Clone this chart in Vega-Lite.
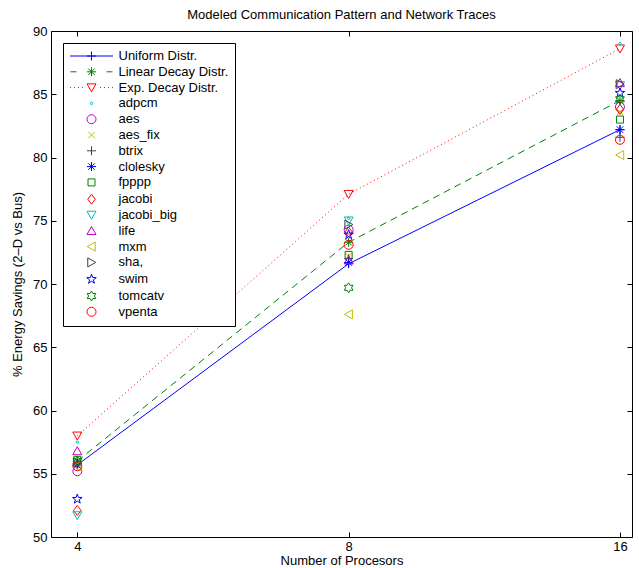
{
  "$schema": "https://vega.github.io/schema/vega-lite/v6.json",
  "width": 581,
  "height": 506,
  "autosize": {"type": "none"},
  "padding": {"left": 51, "top": 31, "right": 7, "bottom": 31},
  "background": "white",
  "title": {"text": "Modeled Communication Pattern and Network Traces", "fontSize": 13, "fontWeight": "normal", "font": "Liberation Sans", "color": "black", "offset": 3},
  "config": {
    "view": {"stroke": "black", "strokeWidth": 1},
    "axis": {"domain": false, "grid": false, "tickColor": "black", "tickSize": -5, "tickWidth": 1, "labelColor": "black", "titleColor": "black", "labelFont": "Liberation Sans", "titleFont": "Liberation Sans", "labelFontSize": 13, "titleFontSize": 13, "titleFontWeight": "normal"},
    "legend": {"strokeColor": "black", "fillColor": "white", "padding": 6.5, "symbolSize": 100, "symbolStrokeWidth": 1, "symbolOffset": 15.5, "labelOffset": 20.5, "rowPadding": 1.8, "labelFont": "Liberation Sans", "labelFontSize": 13, "labelColor": "black", "symbolLimit": 50, "symbolOpacity": 1}
  },
  "data": {"values": [
    {"series": "Uniform Distr.", "procs": 4, "value": 55.7},
    {"series": "Uniform Distr.", "procs": 8, "value": 71.6},
    {"series": "Uniform Distr.", "procs": 16, "value": 82.2},
    {"series": "Linear Decay Distr.", "procs": 4, "value": 56.0},
    {"series": "Linear Decay Distr.", "procs": 8, "value": 73.3},
    {"series": "Linear Decay Distr.", "procs": 16, "value": 84.5},
    {"series": "Exp. Decay Distr.", "procs": 4, "value": 58.0},
    {"series": "Exp. Decay Distr.", "procs": 8, "value": 77.1},
    {"series": "Exp. Decay Distr.", "procs": 16, "value": 88.6},
    {"series": "adpcm", "procs": 4, "value": 57.5},
    {"series": "adpcm", "procs": 8, "value": 75.2},
    {"series": "adpcm", "procs": 16, "value": 89.0},
    {"series": "aes", "procs": 4, "value": 55.2},
    {"series": "aes", "procs": 8, "value": 74.3},
    {"series": "aes", "procs": 16, "value": 84.0},
    {"series": "aes_fix", "procs": 4, "value": 55.9},
    {"series": "aes_fix", "procs": 8, "value": 72.2},
    {"series": "aes_fix", "procs": 16, "value": 83.6},
    {"series": "btrix", "procs": 4, "value": 55.8},
    {"series": "btrix", "procs": 8, "value": 72.0},
    {"series": "btrix", "procs": 16, "value": 81.6},
    {"series": "clolesky", "procs": 4, "value": 55.7},
    {"series": "clolesky", "procs": 8, "value": 71.7},
    {"series": "clolesky", "procs": 16, "value": 82.2},
    {"series": "fpppp", "procs": 4, "value": 56.1},
    {"series": "fpppp", "procs": 8, "value": 72.3},
    {"series": "fpppp", "procs": 16, "value": 83.0},
    {"series": "jacobi", "procs": 4, "value": 52.1},
    {"series": "jacobi", "procs": 8, "value": 74.1},
    {"series": "jacobi", "procs": 16, "value": 83.8},
    {"series": "jacobi_big", "procs": 4, "value": 51.7},
    {"series": "jacobi_big", "procs": 8, "value": 75.0},
    {"series": "jacobi_big", "procs": 16, "value": 85.7},
    {"series": "life", "procs": 4, "value": 56.8},
    {"series": "life", "procs": 8, "value": 71.9},
    {"series": "life", "procs": 16, "value": 85.9},
    {"series": "mxm", "procs": 4, "value": 55.6},
    {"series": "mxm", "procs": 8, "value": 67.6},
    {"series": "mxm", "procs": 16, "value": 80.2},
    {"series": "sha,", "procs": 4, "value": 55.9},
    {"series": "sha,", "procs": 8, "value": 74.7},
    {"series": "sha,", "procs": 16, "value": 85.8},
    {"series": "swim", "procs": 4, "value": 53.0},
    {"series": "swim", "procs": 8, "value": 73.9},
    {"series": "swim", "procs": 16, "value": 85.1},
    {"series": "tomcatv", "procs": 4, "value": 56.0},
    {"series": "tomcatv", "procs": 8, "value": 69.7},
    {"series": "tomcatv", "procs": 16, "value": 84.6},
    {"series": "vpenta", "procs": 4, "value": 55.6},
    {"series": "vpenta", "procs": 8, "value": 73.1},
    {"series": "vpenta", "procs": 16, "value": 81.4}
  ]},
  "layer": [
    {
      "transform": [{"filter": "datum.series === 'Uniform Distr.'"}],
      "mark": {"type": "line", "color": "#0000ff", "strokeWidth": 1, "point": {"shape": "M-0.9,0H0.9M0,-0.9V0.9", "filled": false, "size": 100, "strokeWidth": 1, "color": "#0000ff"}},
      "encoding": {
        "x": {"field": "procs", "type": "quantitative", "scale": {"type": "log", "base": 2, "domain": [3.74, 16.5], "nice": false}, "axis": {"orient": "bottom", "values": [4, 8, 16], "format": "d", "title": "Number of Procesors", "labelPadding": 8, "titlePadding": 1.5}},
        "y": {"field": "value", "type": "quantitative", "scale": {"domain": [50, 90], "nice": false, "zero": false}, "axis": {"orient": "left", "values": [50, 55, 60, 65, 70, 75, 80, 85, 90], "title": "% Energy Savings (2–D vs Bus)", "labelPadding": 9, "titlePadding": 8}}
      }
    },
    {
      "transform": [{"filter": "datum.series === 'Linear Decay Distr.'"}],
      "mark": {"type": "line", "color": "#008000", "strokeWidth": 1, "strokeDash": [7, 5], "point": {"shape": "M-0.9,0H0.9M0,-0.9V0.9M-0.65,-0.65L0.65,0.65M-0.65,0.65L0.65,-0.65", "filled": false, "size": 100, "strokeWidth": 1, "color": "#008000"}},
      "encoding": {
        "x": {"field": "procs", "type": "quantitative", "axis": null},
        "y": {"field": "value", "type": "quantitative", "axis": null}
      }
    },
    {
      "transform": [{"filter": "datum.series === 'Exp. Decay Distr.'"}],
      "mark": {"type": "line", "color": "#ff0000", "strokeWidth": 1, "strokeDash": [1, 3], "point": {"shape": "M-0.9,-0.75H0.9L0,0.85Z", "filled": false, "size": 100, "strokeWidth": 1, "color": "#ff0000"}},
      "encoding": {
        "x": {"field": "procs", "type": "quantitative", "axis": null},
        "y": {"field": "value", "type": "quantitative", "axis": null}
      }
    },
    {
      "transform": [{"filter": "indexof(['Uniform Distr.', 'Linear Decay Distr.', 'Exp. Decay Distr.'], datum.series) < 0"}],
      "mark": {"type": "point", "filled": false, "size": 100, "strokeWidth": 1, "opacity": 1},
      "encoding": {
        "x": {"field": "procs", "type": "quantitative", "axis": {"orient": "top", "values": [4, 8, 16], "labels": false, "title": null}},
        "y": {"field": "value", "type": "quantitative", "axis": {"orient": "right", "values": [50, 55, 60, 65, 70, 75, 80, 85, 90], "labels": false, "title": null}},
        "color": {"field": "series", "type": "nominal",
          "scale": {
            "domain": ["Uniform Distr.", "Linear Decay Distr.", "Exp. Decay Distr.", "adpcm", "aes", "aes_fix", "btrix", "clolesky", "fpppp", "jacobi", "jacobi_big", "life", "mxm", "sha,", "swim", "tomcatv", "vpenta"],
            "range": ["#0000ff", "#008000", "#ff0000", "#00bfbf", "#bf00bf", "#bfbf00", "#404040", "#0000ff", "#008000", "#ff0000", "#00bfbf", "#bf00bf", "#bfbf00", "#404040", "#0000ff", "#008000", "#ff0000"]
          },
          "legend": {"title": null, "orient": "none", "legendX": 12, "legendY": 12}
        },
        "shape": {"field": "series", "type": "nominal",
          "scale": {
            "domain": ["Uniform Distr.", "Linear Decay Distr.", "Exp. Decay Distr.", "adpcm", "aes", "aes_fix", "btrix", "clolesky", "fpppp", "jacobi", "jacobi_big", "life", "mxm", "sha,", "swim", "tomcatv", "vpenta"],
            "range": [
              "M-4.3,0H4.3M-0.9,0H0.9M0,-0.9V0.9",
              "M-4.2,0H-3.0M3.0,0H4.2M-0.9,0H0.9M0,-0.9V0.9M-0.65,-0.65L0.65,0.65M-0.65,0.65L0.65,-0.65",
              "M-4.3,0H-4.1M-3.5,0H-3.3M-2.7,0H-2.5M-1.9,0H-1.7M1.7,0H1.9M2.5,0H2.7M3.3,0H3.5M4.1,0H4.3M-0.9,-0.75H0.9L0,0.85Z",
              "M0.25,0A0.25,0.25,0,1,1,-0.25,0A0.25,0.25,0,1,1,0.25,0Z",
              "M0.9,0A0.9,0.9,0,1,1,-0.9,0A0.9,0.9,0,1,1,0.9,0Z",
              "M-0.65,-0.65L0.65,0.65M-0.65,0.65L0.65,-0.65",
              "M-0.9,0H0.9M0,-0.9V0.9",
              "M-0.9,0H0.9M0,-0.9V0.9M-0.65,-0.65L0.65,0.65M-0.65,0.65L0.65,-0.65",
              "M-0.7,-0.7H0.7V0.7H-0.7Z",
              "M0,-1L0.75,0L0,1L-0.75,0Z",
              "M-0.9,-0.75H0.9L0,0.85Z",
              "M-0.9,0.75H0.9L0,-0.85Z",
              "M0.75,-0.9V0.9L-0.85,0Z",
              "M-0.75,-0.9V0.9L0.85,0Z",
              "M0,-1L0.235,-0.324L0.951,-0.309L0.38,0.124L0.588,0.809L0,0.4L-0.588,0.809L-0.38,0.124L-0.951,-0.309L-0.235,-0.324Z",
              "M0,-1L0.289,-0.5L0.866,-0.5L0.577,0L0.866,0.5L0.289,0.5L0,1L-0.289,0.5L-0.866,0.5L-0.577,0L-0.866,-0.5L-0.289,-0.5Z",
              "M0.9,0A0.9,0.9,0,1,1,-0.9,0A0.9,0.9,0,1,1,0.9,0Z"
            ]
          },
          "legend": {"title": null, "orient": "none", "legendX": 12, "legendY": 12}
        }
      }
    }
  ],
  "resolve": {"axis": {"x": "independent", "y": "independent"}}
}
